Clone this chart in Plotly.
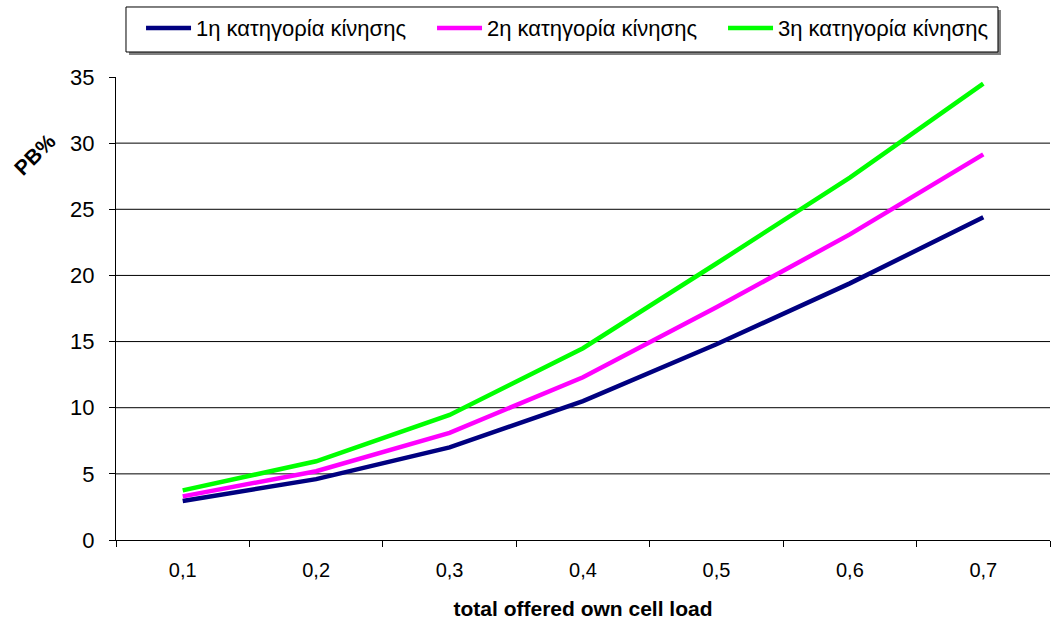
import plotly.graph_objects as go

categories = ["0,1", "0,2", "0,3", "0,4", "0,5", "0,6", "0,7"]
series_names = ["1η κατηγορία κίνησης", "2η κατηγορία κίνησης", "3η κατηγορία κίνησης"]
cat1 = [2.95, 4.6, 7.0, 10.5, 14.8, 19.4, 24.4]
cat2 = [3.3, 5.2, 8.1, 12.3, 17.6, 23.1, 29.15]
cat3 = [3.75, 5.95, 9.45, 14.5, 20.9, 27.4, 34.5]
colors = ["#000080", "#FF00FF", "#00FF00"]
y_ticks = [0, 5, 10, 15, 20, 25, 30, 35]
grid_values = [5, 10, 15, 20, 25, 30]

fig = go.Figure()
for name, vals, col in zip(series_names, [cat1, cat2, cat3], colors):
    fig.add_trace(go.Scatter(x=categories, y=vals, name=name, mode="lines",
                             line=dict(color=col, width=4.5)))

for g in grid_values:
    fig.add_shape(type="line", xref="paper", yref="y", x0=0, x1=1, y0=g, y1=g,
                  line=dict(color="#000000", width=1), layer="below")

# legend frame with drop shadow (paper coordinates)
fig.add_shape(type="rect", xref="paper", yref="paper", x0=0.0139, x1=0.9475,
              y0=1.0475, y1=1.1447, line=dict(width=0), fillcolor="#808080")
fig.add_shape(type="rect", xref="paper", yref="paper", x0=0.0107, x1=0.9443,
              y0=1.054, y1=1.1512, line=dict(color="#000000", width=1), fillcolor="white")

fig.update_layout(
    width=1064, height=624,
    margin=dict(l=116, r=14, t=77, b=84, autoexpand=False),
    paper_bgcolor="white", plot_bgcolor="white",
    font=dict(family="Liberation Sans, Arial, sans-serif", size=20, color="#000000"),
    showlegend=True,
    legend=dict(orientation="h", x=0.0268, y=1.151, xanchor="left", yanchor="top",
                borderwidth=0, bgcolor="rgba(0,0,0,0)",
                entrywidth=231, entrywidthmode="pixels", itemwidth=45,
                font=dict(family="Liberation Sans, Arial, sans-serif", size=22)),
    xaxis=dict(type="category", range=[-0.5, 6.5], showgrid=False, showline=True,
               linecolor="#000000", linewidth=1, automargin=False,
               ticks="outside", ticklen=6, tickcolor="#000000", tickson="boundaries",
               ticklabelstandoff=12, tickfont=dict(size=20),
               title=dict(text="<b>total offered own cell load</b>", standoff=21,
                          font=dict(size=21)),
               zeroline=False),
    yaxis=dict(range=[0, 35], tickvals=y_ticks, showgrid=False, showline=True,
               linecolor="#000000", linewidth=1, ticks="outside", ticklen=6,
               automargin=False,
               tickcolor="#000000", zeroline=False, ticklabelstandoff=10,
               tickfont=dict(size=22)),
    annotations=[dict(text="<b>PB%</b>", textangle=-45, xref="paper", yref="paper",
                      x=-0.087, y=0.832, xanchor="center", yanchor="middle",
                      showarrow=False, font=dict(size=21))],
)

fig.write_html("out.html")
